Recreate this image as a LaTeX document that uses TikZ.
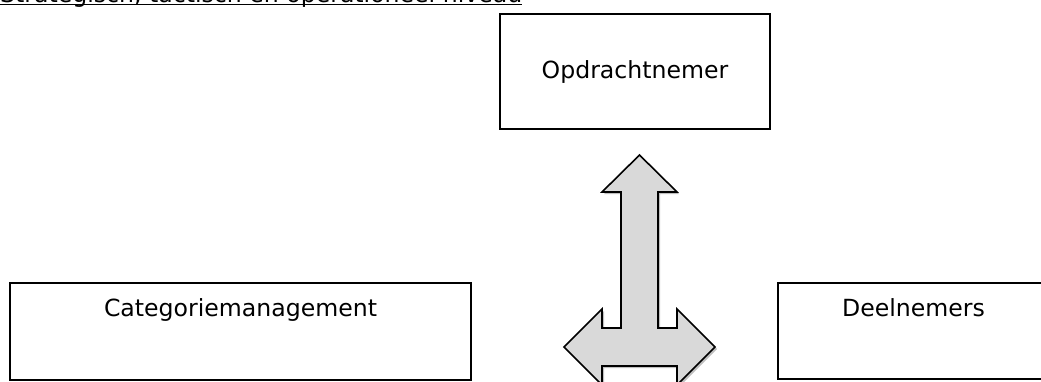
\documentclass[tikz,border=0pt]{standalone}
\usepackage{fontspec}
\setmainfont{DejaVu Sans}
\usetikzlibrary{shadows}
\definecolor{arrowgray}{RGB}{217,217,217}
\tikzset{
  txt/.style={font=\fontsize{23.6}{28}\selectfont, inner sep=0pt},
  boxnode/.style={draw=black, line width=2pt, rectangle, txt, inner ysep=0pt, inner xsep=0pt},
  bigarrow/.style={draw=black, line width=1.6pt, line join=miter, fill=arrowgray,
    drop shadow={shadow xshift=2pt, shadow yshift=-2pt, opacity=0.25, fill=black}},
  uline/.style={line width=1.4pt, black}
}
\begin{document}
\begin{tikzpicture}[x=1pt, y=-1pt]
\useasboundingbox (0,0) rectangle (1041,381);
\clip (0,0) rectangle (1041,381);
% title (clipped at top)
\node[txt, anchor=base west] (title) at (0,2.6) {Strategisch, tactisch en operationeel niveau};
\draw[uline] ([yshift=-2pt]title.base west) -- ([yshift=-2pt]title.base east);
% boxes
\node[boxnode, minimum width=270pt, text height=64pt, text depth=51pt, anchor=north] (opd) at (635,13) {Opdrachtnemer};
\node[boxnode, minimum width=461pt, text height=33pt, text depth=64pt, anchor=north] (cat) at (240.5,282) {Categoriemanagement};
\node[boxnode, minimum width=271pt, text height=33pt, text depth=63pt, anchor=north] (deel) at (913.5,282) {Deelnemers};
% three-way arrow
\coordinate (tip) at (639.5,155);
\draw[bigarrow] (tip) -- (677,192) -- (658,192) -- (658,328) -- (677,328) -- (677,309)
  -- (715,347) -- (677,385) -- (677,366) -- (602,366) -- (602,385) -- (564,347)
  -- (602,309) -- (602,328) -- (621,328) -- (621,192) -- (602,192) -- cycle;
\end{tikzpicture}
\end{document}
